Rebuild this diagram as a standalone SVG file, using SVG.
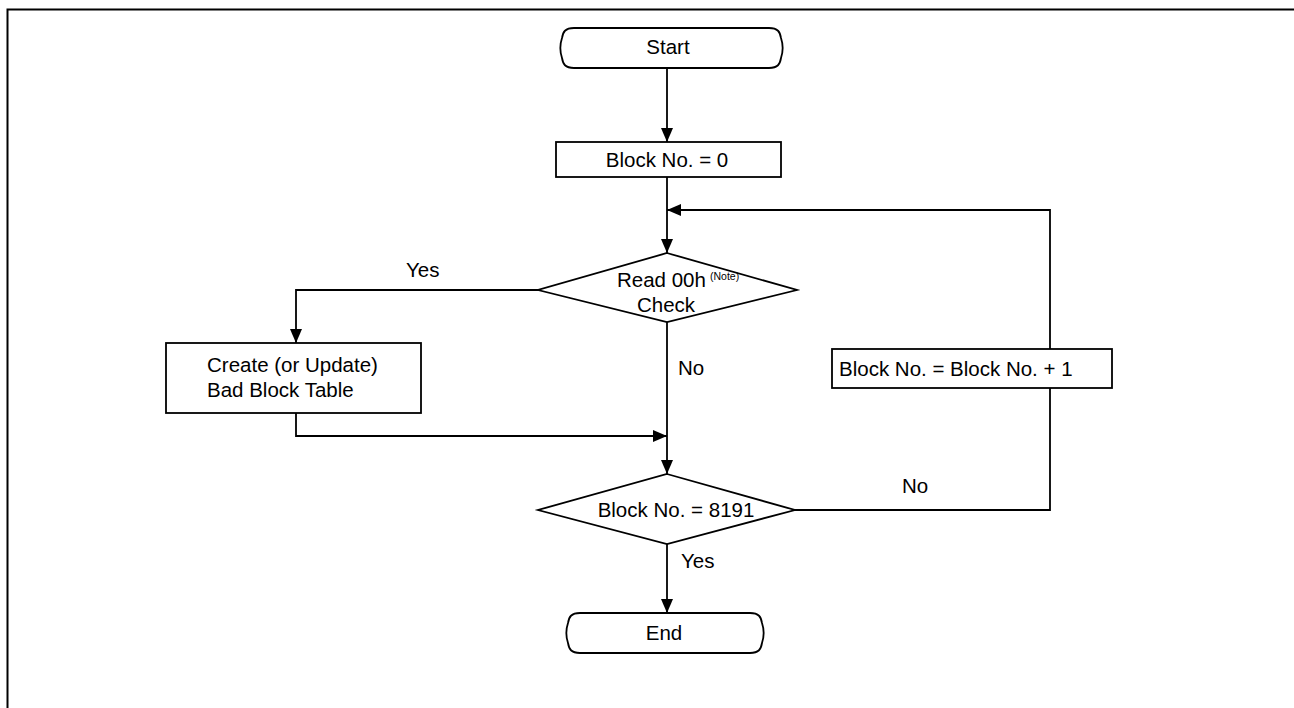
<svg xmlns="http://www.w3.org/2000/svg" width="1294" height="708" viewBox="0 0 1294 708">
<defs>
<marker id="arr" viewBox="0 0 14 12" refX="14" refY="6" markerWidth="14" markerHeight="12" markerUnits="userSpaceOnUse" orient="auto">
<path d="M0,0 L14,6 L0,12 z" fill="#000"/>
</marker>
<style>
.shape{fill:#fff;stroke:#000;stroke-width:1.8}
.conn{fill:none;stroke:#000;stroke-width:1.8}
.t{font-family:"Liberation Sans",Arial,sans-serif;font-size:20.5px;fill:#000}
.m{text-anchor:middle}
.sup{font-family:"Liberation Sans",Arial,sans-serif;font-size:10.5px;fill:#000}
</style>
</defs>
<rect width="1294" height="708" fill="#fff"/>
<path d="M7.5,708 V9.5 H1294" fill="none" stroke="#000" stroke-width="2"/>

<g id="connectors">
<line class="conn" x1="667" y1="68" x2="667" y2="142" marker-end="url(#arr)"/>
<line class="conn" x1="667" y1="177" x2="667" y2="253" marker-end="url(#arr)"/>
<polyline class="conn" points="538,290 296,290 296,343" marker-end="url(#arr)"/>
<line class="conn" x1="667" y1="322" x2="667" y2="474" marker-end="url(#arr)"/>
<polyline class="conn" points="296,413 296,436 667,436" marker-end="url(#arr)"/>
<line class="conn" x1="667" y1="544" x2="667" y2="613" marker-end="url(#arr)"/>
<polyline class="conn" points="795,510 1050,510 1050,210 667,210" marker-end="url(#arr)"/>
<text class="t" x="406" y="277">Yes</text>
<text class="t" x="678" y="375">No</text>
<text class="t" x="902" y="493">No</text>
<text class="t" x="681" y="568">Yes</text>
</g>

<g id="start">
<path class="shape" d="M574,28 H769 C778,28 780,32 781,38 C783,44 783,52 781,58 C780,64 778,68 769,68 H574 C565,68 563,64 562,58 C560,52 560,44 562,38 C563,32 565,28 574,28 Z"/>
<text class="t m" x="668" y="54">Start</text>
</g>

<g id="init">
<rect class="shape" x="556" y="142" width="225" height="35"/>
<text class="t m" x="667" y="167">Block No. = 0</text>
</g>

<g id="check">
<polygon class="shape" points="667,253 797,290 667,322 538,290"/>
<text class="t" x="617" y="287">Read 00h</text>
<text class="sup" x="710" y="280">(Note)</text>
<text class="t m" x="666" y="312">Check</text>
</g>

<g id="create">
<rect class="shape" x="166" y="343" width="255" height="70"/>
<text class="t" x="207" y="372">Create (or Update)</text>
<text class="t" x="207" y="397">Bad Block Table</text>
</g>

<g id="increment">
<rect class="shape" x="832" y="349" width="280" height="39"/>
<text class="t" x="839" y="376">Block No. = Block No. + 1</text>
</g>

<g id="last">
<polygon class="shape" points="667,474 795,510 667,544 538,510"/>
<text class="t m" x="676" y="517">Block No. = 8191</text>
</g>

<g id="end">
<path class="shape" d="M580,613 H750 C759,613 761,617 762,623 C764,629 764,637 762,643 C761,649 759,653 750,653 H580 C571,653 569,649 568,643 C566,637 566,629 568,623 C569,617 571,613 580,613 Z"/>
<text class="t m" x="664" y="640">End</text>
</g>
</svg>
